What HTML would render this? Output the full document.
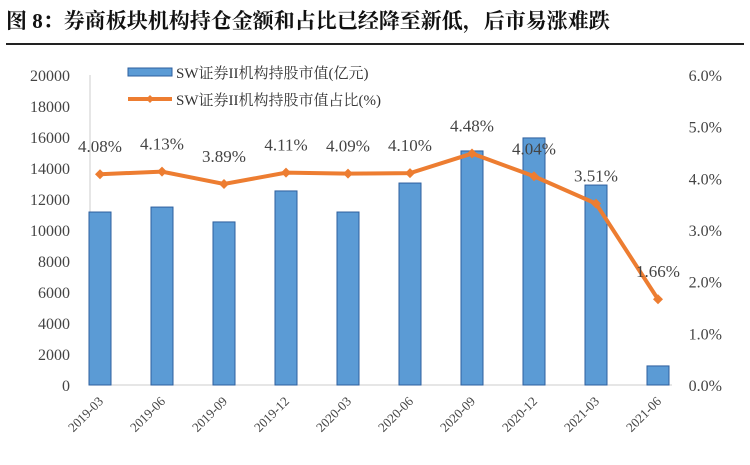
<!DOCTYPE html>
<html><head><meta charset="utf-8"><style>
body{margin:0;background:#fff;width:750px;height:460px;overflow:hidden;font-family:"Liberation Serif","Noto Serif CJK SC",serif}
</style></head><body>
<svg width="750" height="460" xmlns="http://www.w3.org/2000/svg">
<text x="6" y="28" font-size="21" font-weight="bold" font-family="Liberation Serif, Noto Serif CJK SC, serif" fill="#111">图 8：券商板块机构持仓金额和占比已经降至新低，后市易涨难跌</text>
<line x1="6" y1="44" x2="744" y2="44" stroke="#222" stroke-width="2"/>
<g id="axes"></g><g id="bars"></g><g id="line"></g>
<g>
<rect x="128" y="68" width="44" height="8" fill="#5b9bd5" stroke="#2e5f9e"/>
<text x="176" y="78" font-size="15" fill="#333">SW证券II机构持股市值(亿元)</text>
<line x1="128" y1="99" x2="172" y2="99" stroke="#ed7d31" stroke-width="4"/>
<path d="M150 95 L154 99 L150 103 L146 99Z" fill="#ed7d31"/>
<text x="176" y="105" font-size="15" fill="#333">SW证券II机构持股市值占比(%)</text>
</g>
</svg>
<script>
const categories=["2019-03","2019-06","2019-09","2019-12","2020-03","2020-06","2020-09","2020-12","2021-03","2021-06"];
const marketValue=[11160,11480,10520,12520,11160,13030,15100,15940,12900,1230];
const sharePct=[4.08,4.13,3.89,4.11,4.09,4.10,4.48,4.04,3.51,1.66];
const leftTicks=[0,2000,4000,6000,8000,10000,12000,14000,16000,18000,20000];
const rightTicks=[0,1,2,3,4,5,6];
const NS="http://www.w3.org/2000/svg";
const y0=385,yTop=75;
const yL=v=>y0-v/20000*(y0-yTop);
const yR=v=>y0-v/6*(y0-yTop);
const xC=i=>100+i*62;
function mk(t,a,p){const e=document.createElementNS(NS,t);for(const k in a)e.setAttribute(k,a[k]);p.appendChild(e);return e;}
const ax=document.getElementById('axes'),bg=document.getElementById('bars'),lg=document.getElementById('line');
let e=mk('line',{x1:90,y1:yTop,x2:90,y2:y0,stroke:'#ccc'},ax);


e=mk('line',{x1:90,y1:y0,x2:672,y2:y0,stroke:'#ccc'},ax);


leftTicks.forEach(v=>{const t=mk('text',{x:70,y:yL(v)+6,'font-size':16,'text-anchor':'end',fill:'#444'},ax);t.textContent=v;

});
rightTicks.forEach(v=>{const t=mk('text',{x:722,y:yR(v)+6,'font-size':16,'text-anchor':'end',fill:'#444'},ax);t.textContent=v.toFixed(1)+'%';

});
categories.forEach((c,i)=>{const t=mk('text',{x:xC(i)+4,y:402,'font-size':13,'text-anchor':'end',fill:'#444',transform:`rotate(-45 ${xC(i)+4} 402)`},ax);t.textContent=c;

});
marketValue.forEach((v,i)=>{const r=mk('rect',{x:xC(i)-11,y:yL(v),width:22,height:y0-yL(v),fill:'#5b9bd5',stroke:'#2e5f9e','stroke-width':1},bg);

});
const p=mk('polyline',{points:sharePct.map((v,i)=>xC(i)+','+yR(v)).join(' '),fill:'none',stroke:'#ed7d31','stroke-width':4},lg);


sharePct.forEach((v,i)=>{const x=xC(i),y=yR(v);
const m=mk('path',{d:`M${x} ${y-5}L${x+5} ${y}L${x} ${y+5}L${x-5} ${y}Z`,fill:'#ed7d31'},lg);


const t=mk('text',{x:x,y:y-22,'font-size':17,'text-anchor':'middle',fill:'#444'},lg);t.textContent=v.toFixed(2)+'%';

});
</script>
</body></html>
